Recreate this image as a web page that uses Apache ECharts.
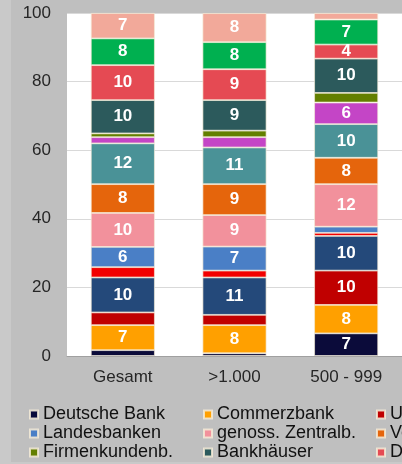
<!DOCTYPE html>
<html>
<head>
<meta charset="utf-8">
<script src="https://cdn.jsdelivr.net/npm/echarts@6/dist/echarts.min.js"></script>
<style>
html,body{margin:0;padding:0;background:#c9c9c9;}
#chart{width:402px;height:464px;}
</style>
</head>
<body>
<div id="chart"></div>
<script>
// Categories (x axis)
const categories = ['Gesamt', '>1.000', '500 - 999'];
// Y axis ticks
const yTicks = [0, 20, 40, 60, 80, 100];

// Series names (stack order, bottom to top)
const seriesNames = [
  'Deutsche Bank', 'Commerzbank', 'UniCredit', 'Sparkassen', 'Postbank',
  'Landesbanken', 'genoss. Zentralb.', 'Volksbanken', 'Auslandsbanken', 'Förderbanken',
  'Firmenkundenb.', 'Bankhäuser', 'Direktbanken', 'Sonstige', 'Keine Angabe'
];

// Values per series (Gesamt, >1.000, 500 - 999), in percent
const deutscheBank   = [1.7, 0.8, 6.6];
const commerzbank    = [7.3, 8.2, 8.3];
const uniCredit      = [3.7, 3.0, 10.0];
const sparkassen     = [10.2, 10.9, 10.1];
const postbank       = [3.0, 2.0, 0.9];
const landesbanken   = [5.9, 7.0, 1.8];
const genossZentralb = [9.9, 9.2, 12.4];
const volksbanken    = [8.4, 9.0, 7.7];
const auslandsbanken = [11.9, 10.7, 9.8];
const foerderbanken  = [1.8, 3.0, 6.3];
const firmenkundenb  = [1.1, 1.9, 2.8];
const bankhaeuser    = [9.7, 8.9, 10.0];
const direktbanken   = [10.2, 9.0, 4.1];
const sonstige       = [7.8, 7.9, 7.3];
const keineAngabe    = [7.4, 8.45, 1.9];

const seriesValues = [
  deutscheBank, commerzbank, uniCredit, sparkassen, postbank,
  landesbanken, genossZentralb, volksbanken, auslandsbanken, foerderbanken,
  firmenkundenb, bankhaeuser, direktbanken, sonstige, keineAngabe
];

const colors = [
  '#0b0b3a', '#ffa000', '#c00000', '#24497a', '#f20000',
  '#4a7fc6', '#f2919c', '#e5650c', '#4a9297', '#c445c6',
  '#637f00', '#2c5a5c', '#e54a53', '#00b050', '#f2a99a'
];

const FONT = 'Liberation Sans, Arial, sans-serif';

const chart = echarts.init(document.getElementById('chart'), null, {renderer: 'canvas'});

const series = seriesNames.map((name, i) => ({
  name: name,
  type: 'bar',
  stack: 'total',
  barWidth: 64,
  data: seriesValues[i],
  itemStyle: {color: colors[i], borderColor: 'rgba(245,235,215,0.85)', borderWidth: 0.8},
  label: {
    show: true,
    position: 'inside',
    color: '#ffffff',
    fontFamily: FONT,
    fontWeight: 'bold',
    fontSize: 17,
    formatter: p => (p.value >= 4 ? String(Math.round(p.value)) : '')
  },
  emphasis: {disabled: true}
}));

// Legend columns (row-major order with 5 columns)
function legendCol(colIdx, left) {
  const names = [seriesNames[colIdx], seriesNames[colIdx + 5], seriesNames[colIdx + 10]];
  return {
    orient: 'vertical',
    left: left,
    top: 405,
    padding: 0,
    itemGap: 0,
    itemWidth: 8,
    itemHeight: 8,
    icon: 'rect',
    data: names,
    selectedMode: false,
    textStyle: {fontFamily: FONT, fontSize: 18, color: '#111', lineHeight: 19, padding: [0, 0, 0, 0]}
  };
}

chart.setOption({
  animation: false,
  backgroundColor: '#c9c9c9',
  graphic: [{
    type: 'rect',
    z: -10,
    shape: {x: 11, y: 0, width: 391, height: 462},
    style: {fill: '#bfbfbf'}
  }],
  color: colors,
  grid: {
    left: 67, top: 13, width: 339, height: 343,
    show: true, backgroundColor: '#ffffff', borderWidth: 0
  },
  legend: [
    legendCol(0, 29),
    legendCol(1, 203),
    legendCol(2, 376),
    legendCol(3, 550),
    legendCol(4, 724)
  ],
  xAxis: {
    type: 'category',
    data: categories,
    axisTick: {show: false},
    axisLine: {show: true, lineStyle: {color: '#a0a0a0', width: 1}},
    axisLabel: {fontFamily: FONT, fontSize: 17, color: '#262626', margin: 13}
  },
  yAxis: {
    type: 'value',
    min: yTicks[0],
    max: yTicks[yTicks.length - 1],
    interval: yTicks[1] - yTicks[0],
    axisLine: {show: false},
    axisTick: {show: false},
    splitLine: {show: true, lineStyle: {color: '#d9d9d9', width: 1}},
    axisLabel: {fontFamily: FONT, fontSize: 17, color: '#262626', margin: 16}
  },
  series: series
});
</script>
</body>
</html>
